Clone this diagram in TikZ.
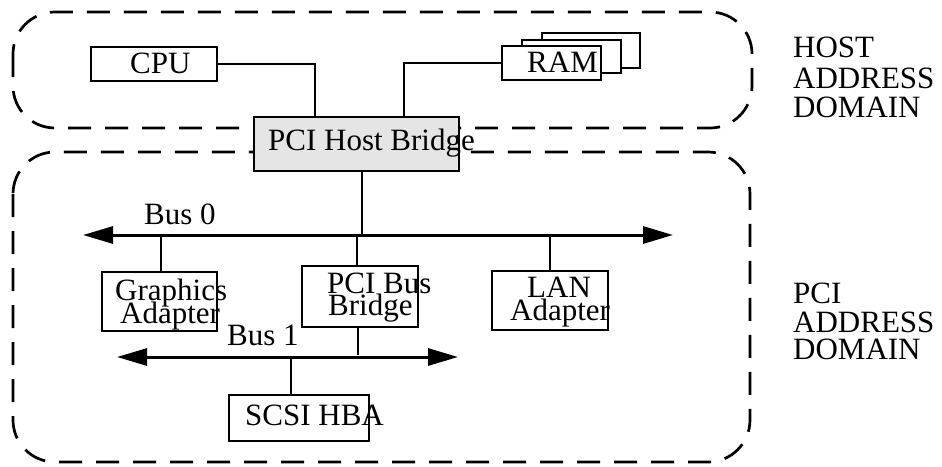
\documentclass[tikz,border=0pt]{standalone}
\usepackage{fontspec}
\setmainfont{Liberation Serif}
\usetikzlibrary{arrows.meta}
\begin{document}
\begin{tikzpicture}[x=1pt,y=-1pt,
  hwbox/.style={draw=black,line width=1.3pt,inner sep=0pt,fill=white},
  txt/.style={inner sep=0pt,anchor=base west,font=\fontsize{31}{31}\selectfont},
  conn/.style={draw=black,line width=1.3pt},
  busline/.style={draw=black,line width=3pt,{Triangle[length=30pt,width=17pt]}-{Triangle[length=30pt,width=17pt]}},
  domainbox/.style={draw=black,line width=2.7pt,dash pattern=on 23pt off 14pt,rounded corners=42pt}]
\useasboundingbox (0,0) rectangle (942,466);
% domains
\draw[domainbox] (13,12) rectangle (752,128);
\draw[domainbox] (13,152) rectangle (750,462);
% boxes
\node[hwbox,minimum width=126pt,minimum height=34pt] (cpu) at (154,64) {};
\node[hwbox,minimum width=98pt,minimum height=35pt] (ram3) at (591,50.5) {};
\node[hwbox,minimum width=99pt,minimum height=33pt] (ram2) at (571.5,56.5) {};
\node[hwbox,minimum width=99pt,minimum height=34pt] (ram1) at (551.5,63) {};
\node[hwbox,fill=black!10,minimum width=205pt,minimum height=54pt] (hb) at (356.5,144) {};
\node[hwbox,minimum width=115pt,minimum height=59pt] (ga) at (159.5,301.5) {};
\node[hwbox,minimum width=116pt,minimum height=61pt] (pbb) at (360,296.5) {};
\node[hwbox,minimum width=116pt,minimum height=59pt] (lan) at (550,300.5) {};
\node[hwbox,minimum width=140pt,minimum height=46pt] (scsi) at (299,418) {};
% bus end points
\coordinate (b0l) at (83,235);
\coordinate (b0r) at (673,235);
\coordinate (b1l) at (117,357);
\coordinate (b1r) at (458,357);
% connectors
\draw[conn] (cpu.east) -| ([xshift=-41.5pt]hb.north);
\draw[conn] (ram1.west) -| ([xshift=47.5pt]hb.north);
\draw[conn] ([xshift=5.5pt]hb.south) -- ([xshift=5.5pt]hb.south |- b0l);
\draw[conn] ([xshift=1.5pt]ga.north) -- ([xshift=1.5pt]ga.north |- b0l);
\draw[conn] ([xshift=-3pt]pbb.north) -- ([xshift=-3pt]pbb.north |- b0l);
\draw[conn] (lan.north) -- (lan.north |- b0l);
\draw[conn] ([xshift=-2pt]pbb.south) -- ([xshift=-2pt,yshift=2pt]pbb.south |- b1l);
\draw[conn] ([xshift=-8pt]scsi.north) -- ([xshift=-8pt]scsi.north |- b1l);
% buses
\draw[busline] (b0l) -- (b0r);
\draw[busline] (b1l) -- (b1r);
% texts
\node[txt] (cpu-t) at (130,73) {CPU};
\node[txt] (ram-t) at (527,72) {RAM};
\node[txt] (hb-t) at (268,150) {PCI Host Bridge};
\node[txt] (bus0-t) at (144,224) {Bus 0};
\node[txt] (ga-t1) at (115,300) {Graphics};
\node[txt] (ga-t2) at (120,323) {Adapter};
\node[txt] (pbb-t1) at (327,293) {PCI Bus};
\node[txt] (pbb-t2) at (328,315) {Bridge};
\node[txt] (lan-t1) at (527,297) {LAN};
\node[txt] (lan-t2) at (510,320) {Adapter};
\node[txt] (bus1-t) at (227,345) {Bus 1};
\node[txt] (scsi-t) at (245,425) {SCSI HBA};
\node[txt] (host1) at (793,57) {HOST};
\node[txt] (host2) at (793,88) {ADDRESS};
\node[txt] (host3) at (793,117) {DOMAIN};
\node[txt] (pci1) at (793,303) {PCI};
\node[txt] (pci2) at (793,332) {ADDRESS};
\node[txt] (pci3) at (793,359) {DOMAIN};
\end{tikzpicture}
\end{document}
